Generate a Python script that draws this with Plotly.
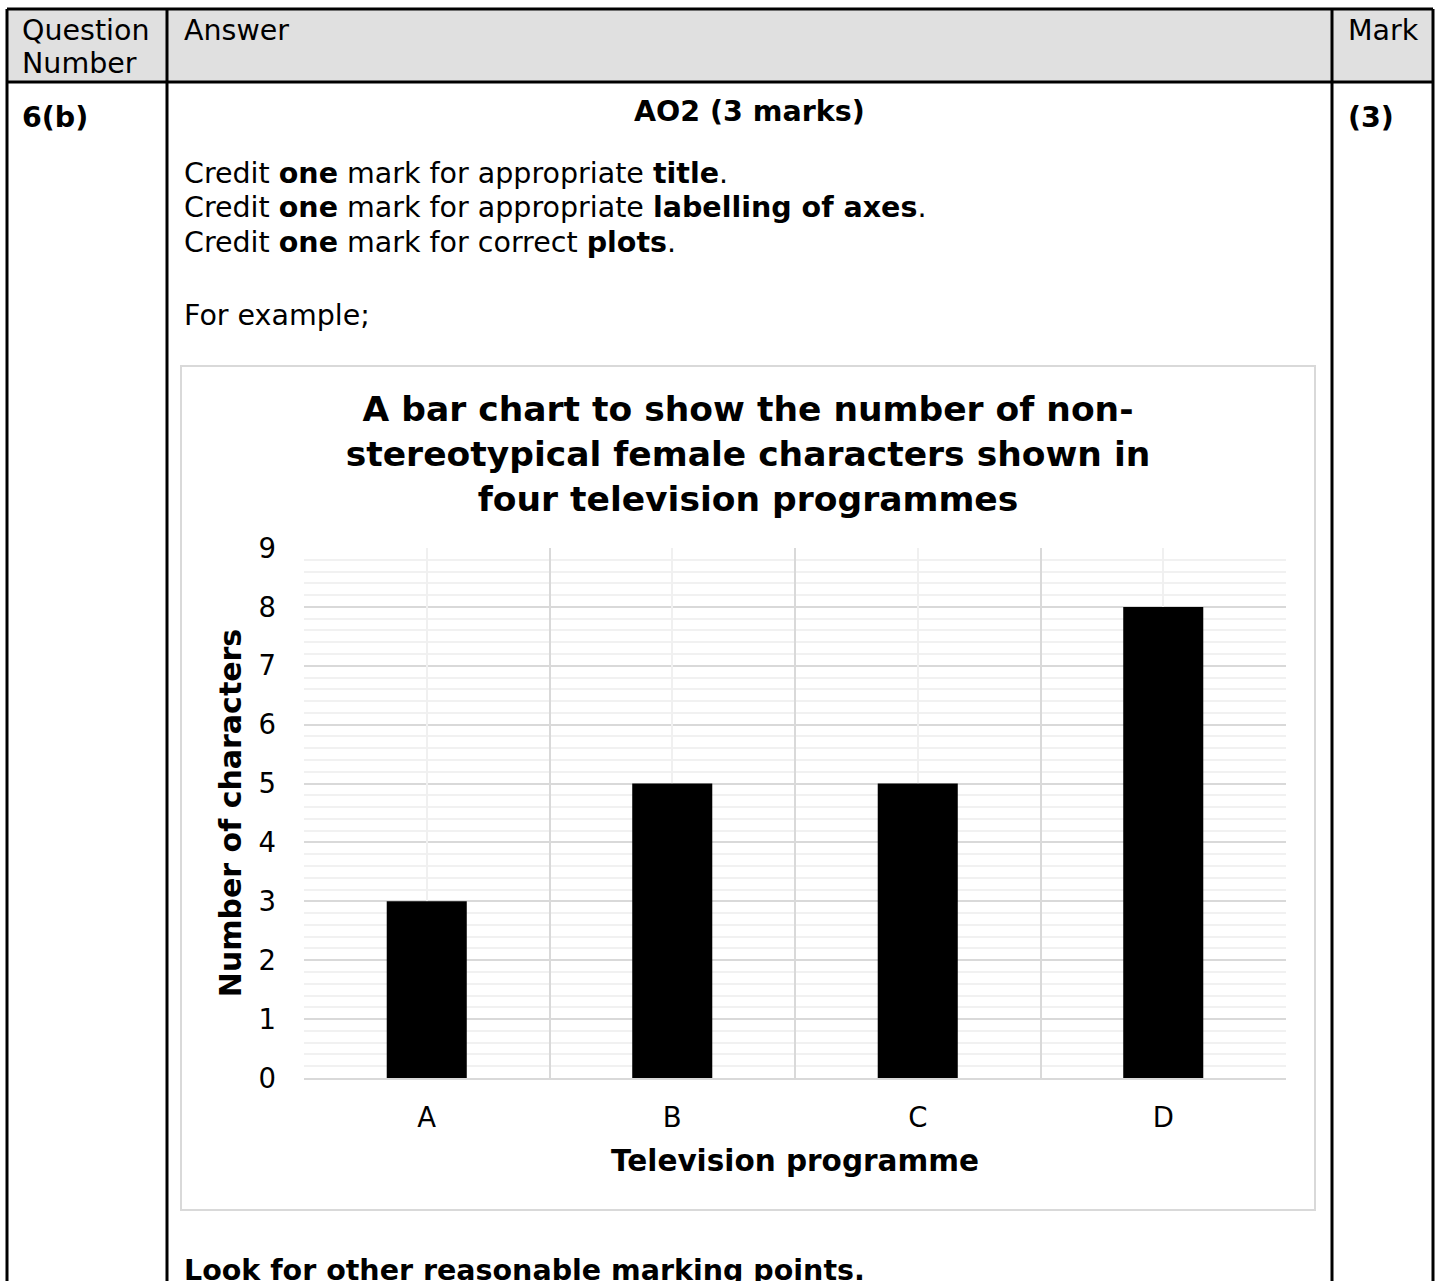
import plotly.graph_objects as go

# ---------------- data ----------------
categories = ["A", "B", "C", "D"]
values = [3, 5, 5, 8]
y_ticks = [0, 1, 2, 3, 4, 5, 6, 7, 8, 9]

chart_title = "A bar chart to show the number of non-<br>stereotypical female characters shown in<br>four television programmes"
x_title = "Television programme"
y_title = "Number of characters"

header_question = ["Question", "Number"]
header_answer = "Answer"
header_mark = "Mark"
question_number = "6(b)"
ao_heading = "AO2 (3 marks)"
mark_value = "(3)"
credit_lines = [
    "Credit <b>one</b> mark for appropriate <b>title</b>.",
    "Credit <b>one</b> mark for appropriate <b>labelling of axes</b>.",
    "Credit <b>one</b> mark for correct <b>plots</b>.",
]
example_text = "For example;"
footer_text = "<b>Look for other reasonable marking points.</b>"

# ---------------- page geometry ----------------
W, H = 1441, 1281
FONT = "DejaVu Sans, Verdana, sans-serif"
BODY = 28.5


def px(x):
    return x / W


def py(y):
    return 1 - y / H


fig = go.Figure()

fig.add_trace(go.Bar(
    x=categories, y=values, width=0.326,
    marker=dict(color="#000000", line=dict(width=0)),
    hoverinfo="x+y", showlegend=False,
))
# invisible companion trace for the light centre gridlines
fig.add_trace(go.Scatter(
    x=categories, y=values, xaxis="x2", yaxis="y",
    mode="markers", marker=dict(opacity=0), hoverinfo="skip", showlegend=False,
))

shapes = []
# header background
shapes.append(dict(type="rect", xref="paper", yref="paper",
                   x0=px(7), x1=px(1433), y0=py(9), y1=py(82),
                   fillcolor="#e0e0e0", line=dict(width=0), layer="below"))
# chart frame
shapes.append(dict(type="rect", xref="paper", yref="paper",
                   x0=px(181), x1=px(1315), y0=py(366), y1=py(1210),
                   fillcolor="#ffffff", line=dict(color="#d9d9d9", width=2), layer="below"))
# table lines
tl = dict(color="#000000", width=3)
for (x0, y0, x1, y1) in [
    (7, 9, 1433, 9),
    (7, 82, 1433, 82),
    (7, 9, 7, 1290),
    (167, 9, 167, 1290),
    (1332, 9, 1332, 1290),
    (1433, 9, 1433, 1290),
]:
    shapes.append(dict(type="line", xref="paper", yref="paper",
                       x0=px(x0), y0=py(y0), x1=px(x1), y1=py(y1), line=tl))

annotations = []


def txt(s, x, y, size=BODY, xanchor="left", yanchor="middle", align="left"):
    annotations.append(dict(text=s, x=px(x), y=py(y), xref="paper", yref="paper",
                            xanchor=xanchor, yanchor=yanchor, align=align,
                            showarrow=False, font=dict(family=FONT, size=size, color="#000000")))


txt(header_question[0], 20, 30)
txt(header_question[1], 20, 63)
txt(header_answer, 182, 30)
txt(header_mark, 1346, 30)
txt("<b>" + question_number + "</b>", 20, 118)
txt("<b>" + ao_heading + "</b>", 749, 112, xanchor="center")
txt("<b>" + mark_value + "</b>", 1346, 118)
for i, line in enumerate(credit_lines):
    txt(line, 182, 173 + 35 * i)
txt(example_text, 182, 315)
txt(footer_text, 182, 1270)

fig.update_layout(
    width=W, height=H,
    margin=dict(l=0, r=0, t=0, b=0),
    paper_bgcolor="#ffffff",
    plot_bgcolor="rgba(0,0,0,0)",
    font=dict(family=FONT, color="#000000"),
    title=dict(text="<b>" + chart_title + "</b>", x=px(748), xanchor="center",
               y=py(421), yanchor="middle", xref="paper", yref="paper",
               font=dict(family=FONT, size=34.5, color="#000000")),
    shapes=shapes,
    annotations=annotations,
    xaxis=dict(
        domain=[px(304), px(1286)],
        type="category", categoryorder="array", categoryarray=categories,
        range=[-0.5, 3.5],
        tickson="boundaries", ticks="",
        showgrid=True, gridcolor="#d9d9d9", gridwidth=1.5,
        showline=True, linecolor="#d9d9d9", linewidth=2,
        tickfont=dict(size=27.5, family=FONT),
        ticklabelstandoff=14,
        title=dict(text="<b>" + x_title + "</b>", font=dict(size=29.5, family=FONT), standoff=18),
        automargin=False, fixedrange=True,
    ),
    xaxis2=dict(
        domain=[px(304), px(1286)],
        overlaying="x", matches="x",
        type="category", categoryorder="array", categoryarray=categories,
        range=[-0.5, 3.5],
        showgrid=True, gridcolor="#f0f0f0", gridwidth=1.5,
        showticklabels=False, ticks="", showline=False, zeroline=False,
        automargin=False, fixedrange=True,
    ),
    yaxis=dict(
        domain=[py(1078), py(548)],
        range=[0, 9], tickvals=y_ticks, ticks="",
        showgrid=True, gridcolor="#d9d9d9", gridwidth=1.5,
        minor=dict(dtick=0.2, showgrid=True, gridcolor="#f1f1f1", gridwidth=1.5, ticks=""),
        zeroline=False, showline=False,
        tickfont=dict(size=27.5, family=FONT),
        ticklabelstandoff=27,
        title=dict(text="<b>" + y_title + "</b>", font=dict(size=30, family=FONT), standoff=8),
        automargin=False, fixedrange=True,
    ),
)

fig.write_html("out.html")
